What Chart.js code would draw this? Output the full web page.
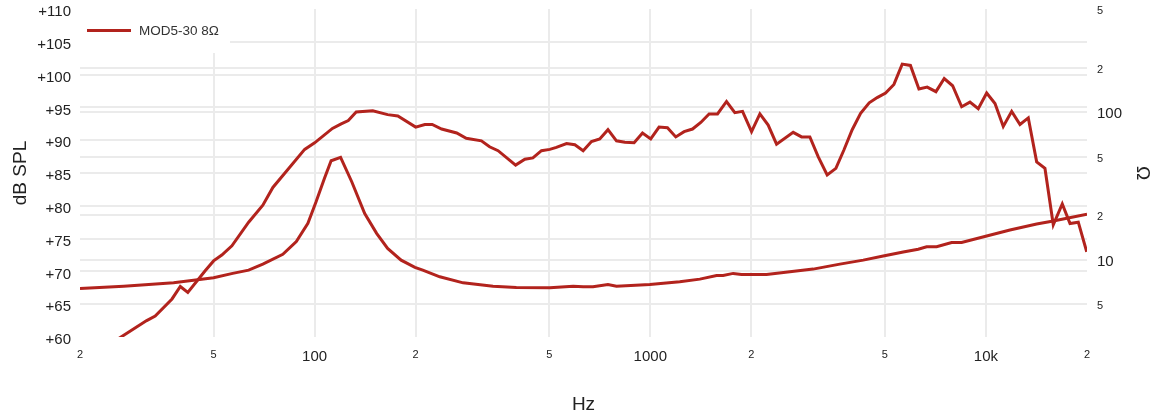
<!DOCTYPE html>
<html>
<head>
<meta charset="utf-8">
<script src="https://cdn.jsdelivr.net/npm/chart.js@4/dist/chart.umd.min.js"></script>
<style>
  html, body { margin: 0; padding: 0; background: #fff; }
  #wrap { width: 1155px; height: 418px; }
</style>
</head>
<body>
<div id="wrap"><canvas id="chart"></canvas></div>
<script>
// frequency response (dB SPL, left axis)
const splFreq = [20, 26.5, 31.6, 33.5, 37.6, 39.8, 41.9, 47.2, 50, 52.9,
    56.7, 63.6, 70.1, 75.1, 93.4, 100, 113, 120, 126, 133,
    149, 165, 177, 200, 213, 224, 239, 265, 283, 314,
    332, 352, 397, 423, 447, 474, 502, 525, 563, 596,
    631, 668, 707, 748, 793, 840, 895, 948, 1003, 1062,
    1125, 1191, 1261, 1336, 1414, 1497, 1586, 1687, 1786, 1883,
    2003, 2121, 2245, 2378, 2665, 2823, 2988, 3163, 3365, 3572,
    3774, 3995, 4232, 4489, 4742, 5023, 5319, 5630, 5957, 6314,
    6683, 7096, 7511, 7956, 8466, 8961, 9485, 10050, 10640, 11260,
    11930, 12630, 13370, 14160, 14990, 15870, 16880, 17800, 18840, 19960];
const splValues = [56, 60.0, 62.5, 63.2, 65.8, 67.7, 66.8, 70.1, 71.6, 72.5,
    73.9, 77.5, 80.1, 82.8, 88.6, 89.6, 91.8, 92.5, 93.0, 94.3,
    94.5, 93.9, 93.7, 92.0, 92.4, 92.4, 91.7, 91.1, 90.3, 89.9,
    89.0, 88.4, 86.2, 87.1, 87.3, 88.4, 88.6, 88.9, 89.5, 89.3,
    88.4, 89.8, 90.2, 91.6, 89.9, 89.7, 89.6, 91.1, 90.2, 92.0,
    91.9, 90.5, 91.3, 91.7, 92.7, 94.0, 94.0, 95.9, 94.2, 94.4,
    91.3, 94.0, 92.3, 89.4, 91.2, 90.5, 90.5, 87.5, 84.7, 85.7,
    88.5, 91.6, 94.1, 95.7, 96.5, 97.2, 98.5, 101.6, 101.4, 97.8,
    98.1, 97.4, 99.4, 98.3, 95.1, 95.8, 94.8, 97.2, 95.6, 92.1,
    94.4, 92.4, 93.4, 86.7, 85.7, 77.1, 80.3, 77.3, 77.5, 73.0];

// impedance (ohm, right axis)
const impFreq = [20, 27, 38, 50, 57, 63.6, 70.1, 80.4, 88.2, 95.5,
    101, 107, 112, 119.5, 129, 141, 153, 165, 181, 199,
    210, 236, 277, 340, 399, 502, 589, 631, 675, 748,
    793, 997, 1224, 1405, 1576, 1648, 1766, 1870, 2220, 2605,
    3056, 3671, 4309, 4943, 5669, 6283, 6657, 7129, 7903, 8463,
    10050, 11790, 14160, 15870, 20000];
const impValues = [6.40, 6.63, 6.98, 7.55, 8.09, 8.51, 9.35, 10.9, 13.3, 17.7,
    24.7, 35.7, 46.9, 49.5, 33.8, 20.6, 15.1, 11.95, 9.95, 8.88,
    8.51, 7.67, 6.98, 6.63, 6.50, 6.46, 6.63, 6.56, 6.56, 6.81,
    6.63, 6.81, 7.09, 7.40, 7.84, 7.84, 8.09, 7.96, 7.96, 8.29,
    8.65, 9.35, 9.95, 10.6, 11.3, 11.8, 12.25, 12.25, 13.1, 13.1,
    14.5, 15.9, 17.5, 18.3, 20.4];

// tick labels
const xTicks = [20, 50, 100, 200, 500, 1000, 2000, 5000, 10000, 20000];
const ohmTicks = [5, 10, 20, 50, 100, 200, 500];
const seriesLabel = "MOD5-30 8Ω";

const lineColor = "#b2231d";
const gridColor = "#ebebeb";
const fontFamily = "'Liberation Sans', Arial, sans-serif";

function isDecade(v) {
    let l = Math.log10(v);
    return Math.abs(l - Math.round(l)) < 1e-9;
}

// short labels: decades shown full, others only first digit
function logLabel(v) {
    if (v == 10000) return "10k";
    if (isDecade(v)) return String(v);
    return String(v).charAt(0);
}

function toPoints(xs, ys) {
    return xs.map((x, i) => ({ x: x, y: ys[i] }));
}

// fixed axis box sizes so the plot area lands where the original has it
function fixWidth(w) {
    return function (s) {
        s.width = w;
        s.paddingTop = 0;
        s.paddingBottom = 0;
    };
}

// draws the legend inside the plot, on a white patch
const insideLegend = {
    id: "insideLegend",
    beforeDatasetsDraw(chart) {
        const a = chart.chartArea;
        const ctx = chart.ctx;
        ctx.save();
        ctx.fillStyle = "#fff";
        ctx.fillRect(a.left - 1, 0, 151, a.top + 44);
        ctx.strokeStyle = lineColor;
        ctx.lineWidth = 3;
        ctx.beginPath();
        ctx.moveTo(a.left + 7, 30.5);
        ctx.lineTo(a.left + 51, 30.5);
        ctx.stroke();
        ctx.fillStyle = "#333";
        ctx.font = "13.5px " + fontFamily;
        ctx.textBaseline = "middle";
        ctx.fillText(chart.data.datasets[0].label, a.left + 59, 31);
        ctx.restore();
    }
};

function edgeGrid(first, last) {
    return function (ctx) {
        if (ctx.tick && (ctx.tick.value == first || ctx.tick.value == last)) return "rgba(0,0,0,0)";
        return gridColor;
    };
}

new Chart(document.getElementById("chart"), {
    type: "line",
    data: {
        datasets: [{
            label: seriesLabel,
            data: toPoints(splFreq, splValues),
            yAxisID: "y",
            borderColor: lineColor,
            borderWidth: 3,
            pointRadius: 0,
            tension: 0
        }, {
            label: seriesLabel + " impedance",
            data: toPoints(impFreq, impValues),
            yAxisID: "y1",
            borderColor: lineColor,
            borderWidth: 3,
            pointRadius: 0,
            tension: 0
        }]
    },
    plugins: [insideLegend],
    options: {
        responsive: true,
        maintainAspectRatio: false,
        animation: false,
        layout: { padding: { top: 9, left: 0, right: 0, bottom: 0 } },
        plugins: {
            legend: { display: false },
            tooltip: { enabled: false }
        },
        scales: {
            x: {
                type: "logarithmic",
                min: 20,
                max: 20000,
                afterBuildTicks: s => { s.ticks = xTicks.map(v => ({ value: v })); },
                afterFit: s => { s.height = 81; s.paddingLeft = 0; s.paddingRight = 0; },
                border: { display: false },
                grid: { color: edgeGrid(20, 20000), lineWidth: 2, drawTicks: false },
                ticks: {
                    padding: 11,
                    maxRotation: 0,
                    autoSkip: false,
                    color: "#222",
                    font: ctx => ({ family: fontFamily, size: isDecade(ctx.tick.value) ? 15 : 11 }),
                    callback: v => logLabel(v)
                },
                title: {
                    display: true,
                    text: "Hz",
                    color: "#222",
                    font: { family: fontFamily, size: 19 },
                    padding: { top: 0, bottom: 2 }
                }
            },
            y: {
                position: "left",
                min: 60,
                max: 110,
                afterFit: fixWidth(80),
                border: { display: false },
                grid: { color: edgeGrid(60, 110), lineWidth: 2, drawTicks: false },
                ticks: {
                    stepSize: 5,
                    padding: 9,
                    labelOffset: 3,
                    color: "#222",
                    font: { family: fontFamily, size: 15 },
                    callback: v => "+" + v
                },
                title: {
                    display: true,
                    text: "dB SPL",
                    color: "#222",
                    font: { family: fontFamily, size: 19 },
                    padding: { top: 9, bottom: 0 }
                }
            },
            y1: {
                type: "logarithmic",
                position: "right",
                min: 3,
                max: 500,
                afterBuildTicks: s => { s.ticks = ohmTicks.map(v => ({ value: v })); },
                afterFit: fixWidth(68),
                border: { display: false },
                grid: { color: edgeGrid(3, 500), lineWidth: 2, drawTicks: false },
                ticks: {
                    padding: 10,
                    labelOffset: 2,
                    autoSkip: false,
                    color: "#222",
                    font: ctx => ({ family: fontFamily, size: isDecade(ctx.tick.value) ? 15 : 11 }),
                    callback: v => logLabel(v)
                },
                title: {
                    display: true,
                    text: "Ω",
                    color: "#222",
                    font: { family: fontFamily, size: 19 },
                    padding: { top: 1, bottom: 0 }
                }
            }
        }
    }
});
</script>
</body>
</html>
